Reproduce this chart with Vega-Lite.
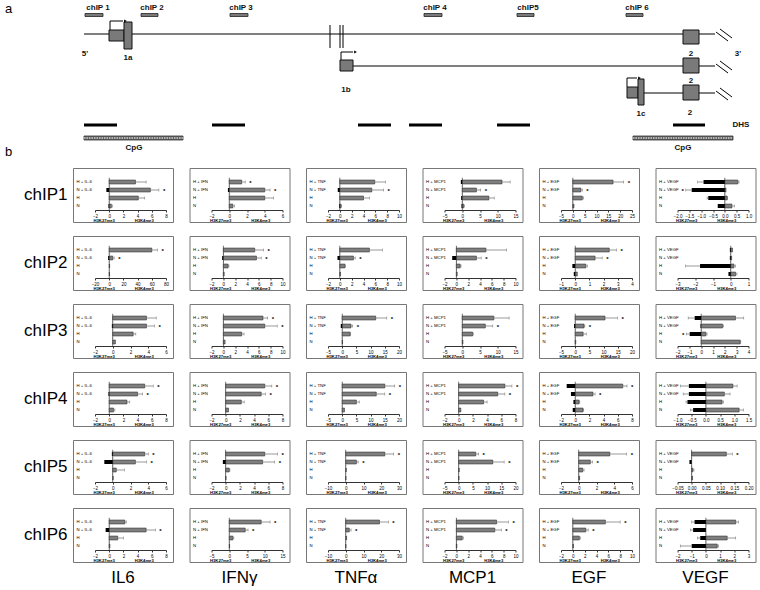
{
"$schema": "https://vega.github.io/schema/vega-lite/v6.json",
"padding": {"top": 3, "left": 5, "right": 5, "bottom": 2},
"background": "white",
"spacing": 3,
"datasets": {
"dlines": [
{"x":15.8,"x2":142,"y":6,"y2":6},
{"x":69.6,"x2":142,"y":12.4,"y2":12.4},
{"x":127.8,"x2":142,"y":17.8,"y2":17.8},
{"x":65,"x2":65,"y":4.2,"y2":8.8},
{"x":67,"x2":67,"y":4.2,"y2":8.8},
{"x":67.6,"x2":67.6,"y":4.2,"y2":8.8},
{"x":142.2,"x2":144.6,"y":5.6,"y2":7.4},
{"x":143,"x2":145.4,"y":5.0,"y2":6.8},
{"x":142.2,"x2":144.6,"y":12,"y2":13.8},
{"x":143,"x2":145.4,"y":11.4,"y2":13.2},
{"x":142.2,"x2":144.6,"y":17.4,"y2":19.2},
{"x":143,"x2":145.4,"y":16.8,"y2":18.6},
{"x":21,"x2":21,"y":5.2,"y2":3.4},
{"x":21,"x2":23.6,"y":3.4,"y2":3.4},
{"x":67.2,"x2":67.2,"y":11.2,"y2":9.6},
{"x":67.2,"x2":69.6,"y":9.6,"y2":9.6},
{"x":124.4,"x2":124.4,"y":16.6,"y2":14.8},
{"x":124.4,"x2":126.4,"y":14.8,"y2":14.8}
],
"dexons": [
{"x":20.8,"x2":23.8,"y":5.2,"y2":7.4},
{"x":23.8,"x2":25.4,"y":3.6,"y2":9},
{"x":135.6,"x2":138.8,"y":5.2,"y2":8},
{"x":67,"x2":69.6,"y":11.2,"y2":13.4},
{"x":135.6,"x2":138.8,"y":10.8,"y2":13.8},
{"x":124.4,"x2":126.6,"y":16.6,"y2":18.8},
{"x":126.6,"x2":127.8,"y":15,"y2":20.2},
{"x":135.6,"x2":138.8,"y":16.2,"y2":19.2}
],
"dchip": [
{"x":16,"x2":19.6,"y":1.9,"y2":2.5},
{"x":27.2,"x2":30.6,"y":1.9,"y2":2.5},
{"x":45,"x2":48.6,"y":1.9,"y2":2.5},
{"x":83.8,"x2":87.4,"y":1.9,"y2":2.5},
{"x":102.4,"x2":105.8,"y":1.9,"y2":2.5},
{"x":124.2,"x2":127.6,"y":1.9,"y2":2.5}
],
"ddhs": [
{"x":15.8,"x2":22.4,"y":23.9,"y2":24.5},
{"x":41.4,"x2":48,"y":23.9,"y2":24.5},
{"x":70.6,"x2":77.2,"y":23.9,"y2":24.5},
{"x":80.8,"x2":87.4,"y":23.9,"y2":24.5},
{"x":98.4,"x2":105,"y":23.9,"y2":24.5},
{"x":133.6,"x2":140,"y":23.9,"y2":24.5}
],
"dcpg": [
{"x":15.8,"x2":35.6,"y":26.4,"y2":27.2,"ym":26.8},
{"x":125.6,"x2":145.6,"y":26.4,"y2":27.2,"ym":26.8}
],
"darrow": [
{"x":24.1,"y":3.4},
{"x":70.1,"y":9.6},
{"x":126.9,"y":14.8}
],
"dtext": [
{"x":18.6,"y":0.8,"label":"chIP 1"},
{"x":29.4,"y":0.8,"label":"chIP 2"},
{"x":47.2,"y":0.8,"label":"chIP 3"},
{"x":86,"y":0.8,"label":"chIP 4"},
{"x":104.6,"y":0.8,"label":"chIP5"},
{"x":126.4,"y":0.8,"label":"chIP 6"},
{"x":16,"y":10,"label":"5'"},
{"x":24.6,"y":10.8,"label":"1a"},
{"x":146.6,"y":10,"label":"3'"},
{"x":137.2,"y":10,"label":"2"},
{"x":137.2,"y":15.4,"label":"2"},
{"x":137,"y":21.8,"label":"2"},
{"x":68.2,"y":17.2,"label":"1b"},
{"x":127.2,"y":22,"label":"1c"},
{"x":147.2,"y":24.2,"label":"DHS"},
{"x":25.8,"y":28.8,"label":"CpG"},
{"x":135.6,"y":28.8,"label":"CpG"}
],
"dpanel": [{"x":0,"y":1,"label":"a"},{"x":0,"y":29.6,"label":"b"}],
"axes": [
{"p":"1IL6","c":"chIP1","g":"IL6","lo":-2,"hi":8},
{"p":"1IFN","c":"chIP1","g":"IFNγ","lo":-2,"hi":6},
{"p":"1TNF","c":"chIP1","g":"TNFα","lo":-2,"hi":10},
{"p":"1MCP1","c":"chIP1","g":"MCP1","lo":-5,"hi":15},
{"p":"1EGF","c":"chIP1","g":"EGF","lo":-5,"hi":25},
{"p":"1VEGF","c":"chIP1","g":"VEGF","lo":-2,"hi":1},
{"p":"2IL6","c":"chIP2","g":"IL6","lo":-20,"hi":80},
{"p":"2IFN","c":"chIP2","g":"IFNγ","lo":-2,"hi":10},
{"p":"2TNF","c":"chIP2","g":"TNFα","lo":-2,"hi":10},
{"p":"2MCP1","c":"chIP2","g":"MCP1","lo":-2,"hi":10},
{"p":"2EGF","c":"chIP2","g":"EGF","lo":-1,"hi":4},
{"p":"2VEGF","c":"chIP2","g":"VEGF","lo":-3,"hi":1},
{"p":"3IL6","c":"chIP3","g":"IL6","lo":-2,"hi":6},
{"p":"3IFN","c":"chIP3","g":"IFNγ","lo":-2,"hi":10},
{"p":"3TNF","c":"chIP3","g":"TNFα","lo":-5,"hi":20},
{"p":"3MCP1","c":"chIP3","g":"MCP1","lo":-5,"hi":15},
{"p":"3EGF","c":"chIP3","g":"EGF","lo":-5,"hi":20},
{"p":"3VEGF","c":"chIP3","g":"VEGF","lo":-2,"hi":4},
{"p":"4IL6","c":"chIP4","g":"IL6","lo":-2,"hi":8},
{"p":"4IFN","c":"chIP4","g":"IFNγ","lo":-2,"hi":8},
{"p":"4TNF","c":"chIP4","g":"TNFα","lo":-5,"hi":20},
{"p":"4MCP1","c":"chIP4","g":"MCP1","lo":-2,"hi":8},
{"p":"4EGF","c":"chIP4","g":"EGF","lo":-2,"hi":8},
{"p":"4VEGF","c":"chIP4","g":"VEGF","lo":-1,"hi":1.5},
{"p":"5IL6","c":"chIP5","g":"IL6","lo":-2,"hi":6},
{"p":"5IFN","c":"chIP5","g":"IFNγ","lo":-2,"hi":8},
{"p":"5TNF","c":"chIP5","g":"TNFα","lo":-10,"hi":30},
{"p":"5MCP1","c":"chIP5","g":"MCP1","lo":-5,"hi":20},
{"p":"5EGF","c":"chIP5","g":"EGF","lo":-2,"hi":6},
{"p":"5VEGF","c":"chIP5","g":"VEGF","lo":-0.05,"hi":0.2},
{"p":"6IL6","c":"chIP6","g":"IL6","lo":-2,"hi":8},
{"p":"6IFN","c":"chIP6","g":"IFNγ","lo":-5,"hi":15},
{"p":"6TNF","c":"chIP6","g":"TNFα","lo":-10,"hi":30},
{"p":"6MCP1","c":"chIP6","g":"MCP1","lo":-2,"hi":10},
{"p":"6EGF","c":"chIP6","g":"EGF","lo":-2,"hi":10},
{"p":"6VEGF","c":"chIP6","g":"VEGF","lo":-2,"hi":3}
],
"bars": [
{"p":"1IL6","t":"H + IL-6","k4":3.7,"k4h":5.2},
{"p":"1IL6","t":"N + IL-6","k4":5.8,"k4h":7.0,"k27":-0.4,"s":"*"},
{"p":"1IL6","t":"H","k4":4.1,"k4h":5.0},
{"p":"1IL6","t":"N","k4":0.3,"k4h":0.45,"k27":-0.1},
{"p":"1IFN","t":"H + IFN","k4":1.4,"k4h":1.8,"s":"*"},
{"p":"1IFN","t":"N + IFN","k4":4.0,"k4h":4.6,"k27":-0.15,"s":"*"},
{"p":"1IFN","t":"H","k4":4.0,"k4h":5.0},
{"p":"1IFN","t":"N","k4":0.4,"k4h":0.6},
{"p":"1TNF","t":"H + TNF","k4":5.9,"k4h":7.7},
{"p":"1TNF","t":"N + TNF","k4":5.4,"k4h":7.4,"k27":-0.35,"s":"*"},
{"p":"1TNF","t":"H","k4":4.0,"k4h":5.0},
{"p":"1TNF","t":"N","k4":0.2,"k4h":0.3,"k27":-0.1},
{"p":"1MCP1","t":"H + MCP1","k4":11.2,"k4h":13.5,"k27":-0.4},
{"p":"1MCP1","t":"N + MCP1","k4":4.0,"k4h":5.2,"s":"*"},
{"p":"1MCP1","t":"H","k4":7.5,"k4h":9.0,"k27":-0.3},
{"p":"1MCP1","t":"N","k4":0.4,"k4h":0.6,"k27":-0.2},
{"p":"1EGF","t":"H + EGF","k4":17,"k4h":21.5,"s":"*"},
{"p":"1EGF","t":"N + EGF","k4":3.4,"k4h":4.0,"s":"*"},
{"p":"1EGF","t":"H","k4":4.0,"k4h":4.6},
{"p":"1EGF","t":"N","k4":0.4,"k4h":0.5},
{"p":"1VEGF","t":"H + VEGF","k4":0.55,"k4h":0.6,"k27":-0.9,"k27l":-1.15},
{"p":"1VEGF","t":"N + VEGF","k4":0.05,"k27":-1.4,"k27l":-1.65,"sn":"*"},
{"p":"1VEGF","t":"H","k4":0.1,"k4h":0.12,"k27":-0.7,"k27l":-0.75},
{"p":"1VEGF","t":"N","k4":0.3,"k4h":0.4,"k27":-0.3},
{"p":"2IL6","t":"H + IL-6","k4":60,"k4h":68,"s":"*"},
{"p":"2IL6","t":"N + IL-6","k4":5,"k4h":7,"k27":-1.5,"s":"*"},
{"p":"2IL6","t":"H","k4":0.6},
{"p":"2IL6","t":"N","k4":0.5},
{"p":"2IFN","t":"H + IFN","k4":5.3,"k4h":6.8,"s":"*"},
{"p":"2IFN","t":"N + IFN","k4":5.6,"k4h":6.4,"k27":-0.2,"s":"*"},
{"p":"2IFN","t":"H","k4":0.8,"k4h":0.95},
{"p":"2IFN","t":"N","k4":0.15},
{"p":"2TNF","t":"H + TNF","k4":5.0,"k4h":7.2},
{"p":"2TNF","t":"N + TNF","k4":2.3,"k4h":2.6,"k27":-0.4,"s":"*"},
{"p":"2TNF","t":"H","k4":0.85,"k4h":0.95},
{"p":"2TNF","t":"N","k4":0.1},
{"p":"2MCP1","t":"H + MCP1","k4":5.0,"k4h":8.5},
{"p":"2MCP1","t":"N + MCP1","k4":3.4,"k4h":4.2,"k27":-0.7,"s":"*"},
{"p":"2MCP1","t":"H","k4":0.65,"k4h":0.8},
{"p":"2MCP1","t":"N","k4":0.15},
{"p":"2EGF","t":"H + EGF","k4":2.4,"k4h":2.9,"s":"*"},
{"p":"2EGF","t":"N + EGF","k4":1.4,"k4h":1.9,"s":"*"},
{"p":"2EGF","t":"H","k4":0.75,"k4h":0.85,"k27":-0.2},
{"p":"2EGF","t":"N","k4":0.15,"k27":-0.1},
{"p":"2VEGF","t":"H + VEGF","k4":0.1,"k27":-0.05},
{"p":"2VEGF","t":"N + VEGF","k4":0.05,"k27":-0.05},
{"p":"2VEGF","t":"H","k4":0.18,"k4h":0.27,"k27":-1.73,"k27l":-2.55},
{"p":"2VEGF","t":"N","k4":0.27,"k4h":0.35,"k27":-0.13},
{"p":"3IL6","t":"H + IL-6","k4":3.8,"k4h":4.9},
{"p":"3IL6","t":"N + IL-6","k4":3.8,"k4h":4.7,"k27":-0.1,"s":"*"},
{"p":"3IL6","t":"H","k4":2.3,"k4h":2.6},
{"p":"3IL6","t":"N","k4":0.3},
{"p":"3IFN","t":"H + IFN","k4":6.7,"k4h":7.5,"s":"*"},
{"p":"3IFN","t":"N + IFN","k4":7.0,"k4h":9.1,"s":"*"},
{"p":"3IFN","t":"H","k4":3.1,"k4h":3.5},
{"p":"3IFN","t":"N","k4":0.3},
{"p":"3TNF","t":"H + TNF","k4":11.8,"k4h":15.7,"s":"*"},
{"p":"3TNF","t":"N + TNF","k4":3.1,"k4h":3.7,"k27":-0.5,"s":"*"},
{"p":"3TNF","t":"H","k4":2.8,"k4h":3.0},
{"p":"3TNF","t":"N","k4":0.1},
{"p":"3MCP1","t":"H + MCP1","k4":8.9,"k4h":13.2},
{"p":"3MCP1","t":"N + MCP1","k4":6.5,"k4h":8.6,"s":"*"},
{"p":"3MCP1","t":"H","k4":2.9,"k4h":3.1},
{"p":"3MCP1","t":"N","k4":0.2},
{"p":"3EGF","t":"H + EGF","k4":10.5,"k4h":14.9,"s":"*"},
{"p":"3EGF","t":"N + EGF","k4":3.1,"k4h":3.4,"k27":-0.4,"s":"*"},
{"p":"3EGF","t":"H","k4":2.8,"k4h":3.9},
{"p":"3EGF","t":"N","k4":0.2},
{"p":"3VEGF","t":"H + VEGF","k4":2.9,"k4h":3.6,"k27":-0.55,"k27l":-1.1},
{"p":"3VEGF","t":"N + VEGF","k4":1.8,"k4h":1.9,"k27":-0.05},
{"p":"3VEGF","t":"H","k4":0.4,"k4h":0.5,"k27":-0.97,"k27l":-1.25,"sn":"*"},
{"p":"3VEGF","t":"N","k4":3.3,"k4h":3.35},
{"p":"4IL6","t":"H + IL-6","k4":5.0,"k4h":6.2,"s":"*"},
{"p":"4IL6","t":"N + IL-6","k4":4.0,"k4h":4.7,"k27":-0.1,"s":"*"},
{"p":"4IL6","t":"H","k4":2.5,"k4h":2.9},
{"p":"4IL6","t":"N","k4":0.6,"k4h":0.8},
{"p":"4IFN","t":"H + IFN","k4":5.5,"k4h":6.5,"s":"*"},
{"p":"4IFN","t":"N + IFN","k4":5.0,"k4h":5.6,"s":"*"},
{"p":"4IFN","t":"H","k4":2.2,"k4h":2.6},
{"p":"4IFN","t":"N","k4":0.4},
{"p":"4TNF","t":"H + TNF","k4":15,"k4h":18.5,"s":"*"},
{"p":"4TNF","t":"N + TNF","k4":12,"k4h":15,"s":"*"},
{"p":"4TNF","t":"H","k4":5,"k4h":6},
{"p":"4TNF","t":"N","k4":0.8},
{"p":"4MCP1","t":"H + MCP1","k4":6.5,"k4h":7.5,"s":"*"},
{"p":"4MCP1","t":"N + MCP1","k4":5.5,"k4h":6.5,"s":"*"},
{"p":"4MCP1","t":"H","k4":3.5,"k4h":4.0},
{"p":"4MCP1","t":"N","k4":0.3},
{"p":"4EGF","t":"H + EGF","k4":6.7,"k4h":7.3,"k27":-1.2,"s":"*"},
{"p":"4EGF","t":"N + EGF","k4":2.5,"k4h":2.8,"k27":-0.6,"s":"*"},
{"p":"4EGF","t":"H","k4":0.55,"k4h":0.65,"k27":-0.25},
{"p":"4EGF","t":"N","k4":1.1,"k4h":1.2,"k27":-0.35},
{"p":"4VEGF","t":"H + VEGF","k4":0.95,"k4h":1.1,"k27":-0.6,"k27l":-0.9},
{"p":"4VEGF","t":"N + VEGF","k4":0.65,"k4h":0.85,"k27":-0.6,"k27l":-0.8},
{"p":"4VEGF","t":"H","k4":0.57,"k4h":0.62,"k27":-0.65,"k27l":-0.7},
{"p":"4VEGF","t":"N","k4":1.17,"k4h":1.32,"k27":-0.45,"k27l":-0.55},
{"p":"5IL6","t":"H + IL-6","k4":3.6,"k4h":4.0,"k27":-0.1,"s":"*"},
{"p":"5IL6","t":"N + IL-6","k4":2.55,"k4h":3.8,"k27":-0.95,"s":"*"},
{"p":"5IL6","t":"H","k4":0.4,"k4h":1.3},
{"p":"5IL6","t":"N","k4":0.05},
{"p":"5IFN","t":"H + IFN","k4":5.5,"k4h":7.3,"s":"*"},
{"p":"5IFN","t":"N + IFN","k4":5.2,"k4h":6.9,"k27":-0.4,"s":"*"},
{"p":"5IFN","t":"H","k4":0.5,"k4h":0.6},
{"p":"5IFN","t":"N","k4":0.05},
{"p":"5TNF","t":"H + TNF","k4":22,"k4h":27,"s":"*"},
{"p":"5TNF","t":"N + TNF","k4":6,"k4h":7,"s":"*"},
{"p":"5TNF","t":"H","k4":0.3},
{"p":"5TNF","t":"N","k4":0.1},
{"p":"5MCP1","t":"H + MCP1","k4":6,"k4h":7,"s":"*"},
{"p":"5MCP1","t":"N + MCP1","k4":12,"k4h":16,"s":"*"},
{"p":"5MCP1","t":"H","k4":0.2},
{"p":"5MCP1","t":"N","k4":0.1},
{"p":"5EGF","t":"H + EGF","k4":3.5,"k4h":5.4,"s":"*"},
{"p":"5EGF","t":"N + EGF","k4":1.3,"k4h":1.55,"s":"*"},
{"p":"5EGF","t":"H","k4":0.45,"k4h":0.6},
{"p":"5EGF","t":"N","k4":0.1},
{"p":"5VEGF","t":"H + VEGF","k4":0.122,"k4h":0.143,"s":"*"},
{"p":"5VEGF","t":"N + VEGF","k27":-0.008},
{"p":"5VEGF","t":"H","k4":0.004,"k4h":0.008},
{"p":"5VEGF","t":"N","k4":0.003},
{"p":"6IL6","t":"H + IL-6","k4":2.2,"k4h":2.4},
{"p":"6IL6","t":"N + IL-6","k4":5.2,"k4h":6.5,"k27":-0.5,"s":"*"},
{"p":"6IL6","t":"H","k4":1.2,"k4h":2.0},
{"p":"6IL6","t":"N","k4":0.1},
{"p":"6IFN","t":"H + IFN","k4":9,"k4h":11.5,"s":"*"},
{"p":"6IFN","t":"N + IFN","k4":4.5,"k4h":5.3,"s":"*"},
{"p":"6IFN","t":"H","k4":1.0,"k4h":1.3},
{"p":"6IFN","t":"N","k4":0.1},
{"p":"6TNF","t":"H + TNF","k4":19,"k4h":24,"s":"*"},
{"p":"6TNF","t":"N + TNF","k4":2,"k4h":3,"s":"*"},
{"p":"6TNF","t":"H","k4":0.5},
{"p":"6TNF","t":"N","k4":0.1},
{"p":"6MCP1","t":"H + MCP1","k4":6.8,"k4h":8.8,"s":"*"},
{"p":"6MCP1","t":"N + MCP1","k4":6.5,"k4h":7.6,"s":"*"},
{"p":"6MCP1","t":"H","k4":1.0,"k4h":1.2},
{"p":"6MCP1","t":"N","k4":0.1},
{"p":"6EGF","t":"H + EGF","k4":5.5,"k4h":8,"s":"*"},
{"p":"6EGF","t":"N + EGF","k4":2.2,"k4h":2.6,"s":"*"},
{"p":"6EGF","t":"H","k4":1.1,"k4h":1.3},
{"p":"6EGF","t":"N","k4":0.1},
{"p":"6VEGF","t":"H + VEGF","k4":2.1,"k4h":2.3,"k27":-0.8,"k27l":-1.0},
{"p":"6VEGF","t":"N + VEGF","k27":-0.9,"k27l":-1.1},
{"p":"6VEGF","t":"H","k4":1.5,"k4h":2.1,"k27":-0.4,"k27l":-0.6},
{"p":"6VEGF","t":"N","k4":0.8,"k4h":0.9,"k27":-1.0,"k27l":-1.8}
]
},
"vconcat": [
{
"width": 682,
"height": 160,
"view": {"stroke": null},
"encoding": {
"x": {"field": "x", "type": "quantitative", "scale": {"domain": [13.6, 150]}, "axis": null},
"y": {"field": "y", "type": "quantitative", "scale": {"domain": [0, 32], "reverse": true}, "axis": null}
},
"layer": [
{"data": {"name": "dlines"}, "mark": {"type": "rule", "color": "black", "strokeWidth": 1}, "encoding": {"x2": {"field": "x2"}, "y2": {"field": "y2"}}},
{"data": {"name": "dexons"}, "mark": {"type": "rect", "fill": "#7a7a7a", "stroke": "#111", "strokeWidth": 1}, "encoding": {"x2": {"field": "x2"}, "y2": {"field": "y2"}}},
{"data": {"name": "dchip"}, "mark": {"type": "rect", "fill": "#7a7a7a", "stroke": "#222", "strokeWidth": 0.8}, "encoding": {"x2": {"field": "x2"}, "y2": {"field": "y2"}}},
{"data": {"name": "ddhs"}, "mark": {"type": "rect", "fill": "black"}, "encoding": {"x2": {"field": "x2"}, "y2": {"field": "y2"}}},
{"data": {"name": "dcpg"}, "mark": {"type": "rect", "fill": "#666", "stroke": "#333", "strokeWidth": 0.8}, "encoding": {"x2": {"field": "x2"}, "y2": {"field": "y2"}}},
{"data": {"name": "dcpg"}, "mark": {"type": "rule", "color": "white", "strokeWidth": 1.2, "strokeDash": [1.5, 1]}, "encoding": {"y": {"field": "ym", "type": "quantitative"}, "x2": {"field": "x2"}}},
{"data": {"name": "darrow"}, "mark": {"type": "point", "shape": "triangle-right", "filled": true, "color": "black", "size": 10, "opacity": 1}},
{"data": {"name": "dtext"}, "mark": {"type": "text", "fontSize": 8, "fontWeight": "bold", "color": "#111", "baseline": "middle", "align": "center"}, "encoding": {"text": {"field": "label"}}},
{"data": {"name": "dpanel"}, "mark": {"type": "text", "fontSize": 13, "color": "black", "baseline": "middle", "align": "left"}, "encoding": {"text": {"field": "label"}}}
]
},
{
"data": {"name": "bars"},
"transform": [{"lookup": "p", "from": {"data": {"name": "axes"}, "key": "p", "fields": ["c", "g", "lo", "hi"]}}],
"facet": {
"row": {"field": "c", "type": "nominal", "title": "\u00a0",
 "header": {"labelAngle": 0, "labelFontSize": 17, "labelAlign": "right", "labelPadding": -38, "labelColor": "black", "labelBaseline": "middle", "titleAngle": 0, "titleFontSize": 10, "titlePadding": 8}},
"column": {"field": "g", "type": "nominal", "title": null, "sort": ["IL6", "IFNγ", "TNFα", "MCP1", "EGF", "VEGF"],
 "header": {"labelOrient": "bottom", "labelFontSize": 17, "labelPadding": 8, "labelColor": "black"}}
},
"spacing": {"row": 14, "column": 16.5},
"bounds": "flush",
"resolve": {"scale": {"x": "independent", "y": "independent"}},
"spec": {
"width": 100,
"height": 54,
"encoding": {
"y": {"field": "t", "type": "nominal", "sort": null,
 "scale": {"range": [10, 42], "paddingInner": 0.5, "paddingOuter": 0.25},
 "axis": {"title": null, "domain": false, "ticks": false, "tickSize": 0, "labelAlign": "left", "labelPadding": -3, "labelFontSize": 4.3, "labelColor": "black", "labelBaseline": "middle"}}
},
"layer": [
{"mark": {"type": "rule", "opacity": 0},
 "encoding": {
 "x": {"field": "lo", "type": "quantitative",
  "scale": {"range": [22, 93], "nice": false, "zero": false},
  "axis": {"title": "H3K27me3\u00a0\u00a0\u00a0\u00a0\u00a0\u00a0\u00a0\u00a0\u00a0\u00a0\u00a0\u00a0\u00a0\u00a0\u00a0\u00a0\u00a0H3K4me3",
   "tickCount": 5, "offset": -12, "labelFontSize": 4.5, "tickSize": 2, "labelPadding": 1,
   "titleFontSize": 4.2, "titleFontWeight": "bold", "titlePadding": 1, "titleX": 20, "titleAlign": "left",
   "grid": false, "domainColor": "#333", "tickColor": "#333", "labelOverlap": false, "labelFlush": false, "labelColor": "black", "titleColor": "black"}},
 "x2": {"field": "hi"}}},
{"mark": {"type": "tick", "orient": "vertical", "size": 8.6, "thickness": 0.8, "color": "black"},
 "encoding": {"x": {"datum": 0}}},
{"mark": {"type": "bar", "fill": "#7f7f7f", "stroke": "#222", "strokeWidth": 0.5},
 "encoding": {"x": {"field": "k4", "type": "quantitative"}, "x2": {"datum": 0}}},
{"mark": {"type": "bar", "fill": "black"},
 "encoding": {"x": {"field": "k27", "type": "quantitative"}, "x2": {"datum": 0}}},
{"mark": {"type": "rule", "color": "#555", "strokeWidth": 0.6},
 "encoding": {"x": {"field": "k4", "type": "quantitative"}, "x2": {"field": "k4h"}}},
{"transform": [{"filter": "datum.k4h > datum.k4"}],
 "mark": {"type": "tick", "orient": "vertical", "size": 3, "thickness": 0.6, "color": "#555"},
 "encoding": {"x": {"field": "k4h", "type": "quantitative"}}},
{"mark": {"type": "rule", "color": "#555", "strokeWidth": 0.6},
 "encoding": {"x": {"field": "k27l", "type": "quantitative"}, "x2": {"field": "k27"}}},
{"transform": [{"filter": "datum.k27l < datum.k27"}],
 "mark": {"type": "tick", "orient": "vertical", "size": 3, "thickness": 0.6, "color": "#555"},
 "encoding": {"x": {"field": "k27l", "type": "quantitative"}}},
{"transform": [{"filter": "datum.s"}],
 "mark": {"type": "text", "dx": 4, "dy": 1, "align": "left", "baseline": "middle", "fontSize": 6, "fontWeight": "bold", "color": "black"},
 "encoding": {"x": {"field": "k4h", "type": "quantitative"}, "text": {"field": "s"}}},
{"transform": [{"filter": "datum.sn"}],
 "mark": {"type": "text", "dx": -2, "dy": 1, "align": "right", "baseline": "middle", "fontSize": 6, "fontWeight": "bold", "color": "black"},
 "encoding": {"x": {"field": "k27l", "type": "quantitative"}, "text": {"field": "sn"}}}
]
}
}
],
"config": {
"font": "Liberation Sans",
"view": {"stroke": "#777", "strokeWidth": 1}
}
}
